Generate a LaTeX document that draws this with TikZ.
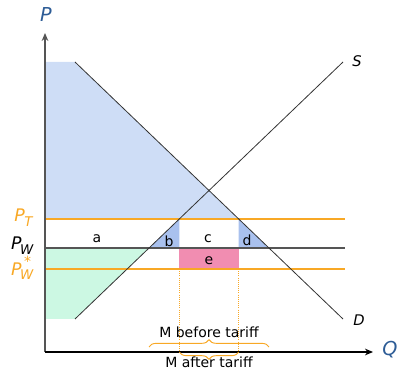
\documentclass[tikz,border=0pt]{standalone}
\usepackage{fontspec}
\setmainfont{DejaVu Sans}
\usetikzlibrary{decorations.pathreplacing,arrows.meta}
\definecolor{csblue}{HTML}{CEDDF6}
\definecolor{dwblue}{HTML}{A9C1EE}
\definecolor{psgreen}{HTML}{CCF8E3}
\definecolor{revpink}{HTML}{F18DB1}
\definecolor{myorange}{HTML}{F8A825}
\definecolor{axblue}{HTML}{2D5C96}
\definecolor{axgray}{HTML}{555555}
\newcommand\mysubw[1]{\raisebox{-0.5ex}{\fontsize{10}{10}\selectfont\itshape #1}}
\newcommand\mystar{\raisebox{0.9ex}{\fontsize{10.5}{10}\selectfont *}}
\begin{document}
\begin{tikzpicture}[x=0.75pt,y=-0.75pt,font=\fontsize{10.5}{12}\selectfont,
  curve/.style={draw=black!80,line width=0.6pt},
  pline/.style={draw=myorange,line width=1pt},
  wline/.style={draw=axgray,line width=1pt},
  vdot/.style={draw=myorange,densely dotted,line width=0.6pt},
  brc/.style={draw=myorange,line width=0.7pt,decorate,decoration={brace,amplitude=5.5pt}},
  lab/.style={inner sep=1pt},
  axlab/.style={text=axblue,font=\fontsize{14.4}{16}\selectfont\itshape},
  plab/.style={anchor=east,inner sep=1pt,font=\fontsize{13}{14}\selectfont}]
\useasboundingbox (0,0) rectangle (400,370);
% coordinates
\coordinate (Dtop) at (75,62);
\coordinate (Dbot) at (343,319);
\coordinate (Sbot) at (75,319);
\coordinate (Stop) at (343,62);
\coordinate (STt) at (179.3,219);
\coordinate (SW) at (149,248);
\coordinate (DT) at (238.7,219);
\coordinate (DW) at (269,248);
% fills
\fill[csblue] (45,62) -- (Dtop) -- (DT) -- (45,219) -- cycle;
\fill[psgreen] (45,248) -- (SW) -- (Sbot) -- (45,319) -- cycle;
\fill[dwblue] (SW) -- (STt) -- (179.3,248) -- cycle;
\fill[dwblue] (DT) -- (DW) -- (238.7,248) -- cycle;
\fill[revpink] (179.3,248) rectangle (238.7,269);
% price lines
\draw[pline] (45,219) -- (345,219);
\draw[pline] (45,269) -- (345,269);
\draw[wline] (45,248) -- (345,248);
% dotted verticals
\draw[vdot] (179.3,269) -- (179.3,352);
\draw[vdot] (238.7,269) -- (238.7,352);
% curves
\draw[curve] (Dtop) -- (Dbot);
\draw[curve] (Sbot) -- (Stop);
% axes
\draw[axgray,line width=0.9pt,-{Stealth[length=6pt,width=5pt]}] (45,352) -- (45,33);
\draw[black,line width=0.8pt,-{Stealth[length=6pt,width=5pt]}] (45,352) -- (373,352);
% axis labels
\node[axlab] (P) at (46,15) {P};
\node[axlab] (Q) at (390,350) {Q};
\node[font=\fontsize{11}{13}\selectfont\itshape] (S) at (357,61) {S};
\node[font=\fontsize{11}{13}\selectfont\itshape] (D) at (359,320) {D};
\node[plab,text=myorange] (PT) at (34,218) {\textit{P}\kern-0.5pt\mysubw{T}};
\node[plab] (PW) at (35,246) {\textit{P}\kern-1pt\mysubw{W}};
\node[plab,text=myorange] (PWs) at (35,268) {\textit{P}\kern-1pt\rlap{\kern3pt\mystar}\mysubw{W}};
% area labels
\node[lab] (a) at (97,239) {a};
\node[lab] (b) at (169,241) {b};
\node[lab] (c) at (208,239) {c};
\node[lab] (d) at (247,240) {d};
\node[lab] (e) at (209,261) {e};
% braces
\draw[brc] (149,347) -- (269,347);
\draw[brc] (238.7,352) -- (179.3,352);
\node (mb) at (209,332) {M before tariff};
\node[anchor=base] (ma) at (209,368) {M after tariff};
\end{tikzpicture}
\end{document}
